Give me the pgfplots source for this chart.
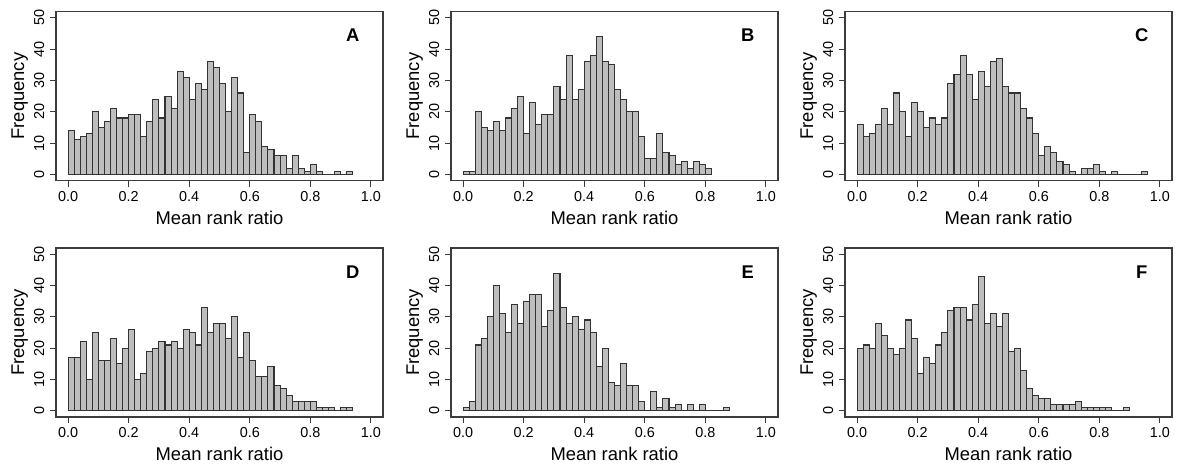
\documentclass[border=0pt]{standalone}
\usepackage{fontspec}
\setmainfont{Liberation Sans}
\usepackage{pgfplots}
\pgfplotsset{compat=1.18}
\definecolor{rgray}{HTML}{BEBEBE}
\definecolor{rbox}{HTML}{3C3C3C}
\newcommand{\labfont}{\fontsize{13.8}{16}\selectfont}
\newcommand{\tickfont}{\fontsize{10.8}{13}\selectfont}
\pgfplotsset{
  rpanel/.style={
    scale only axis,
    width=245.25pt, height=126.75pt,
    xmin=-0.04, xmax=1.04, ymin=-2, ymax=52,
    xtick={0,0.2,0.4,0.6,0.8,1},
    xticklabels={0.0,0.2,0.4,0.6,0.8,1.0},
    ytick={0,10,20,30,40,50},
    yticklabels={0,10,20,30,40,50},
    tick pos=left,
    tick align=outside,
    major tick length=4.5pt,
    axis line style={line width=0.8pt, draw=rbox},
    tick style={line width=0.8pt, draw=rbox},
    tick label style={font=\tickfont},
    xticklabel style={anchor=base, yshift=-11pt},
    yticklabel style={rotate=90, anchor=base, yshift=4.5pt},
    clip=false,
  },
  rbars/.style={ybar interval, fill=rgray, draw=black!80, line width=0.8pt},
}
\newcommand{\panellabels}[1]{%
  \node[anchor=base, font=\labfont] at ([yshift=-32.8pt]rel axis cs:0.5,0) {Mean rank ratio};
  \node[rotate=90, anchor=base, font=\labfont] at ([xshift=-24pt]rel axis cs:0,0.5) {Frequency};
  \node[anchor=base, font=\labfont\bfseries] at (axis cs:0.94,42.4) {#1};
}
\begin{document}
\begin{tikzpicture}
\path[use as bounding box] (0pt,0pt) rectangle (884.25pt,-349.5pt);

% A
\begin{axis}[rpanel, at={(42pt,-135.45pt)}, anchor=south west]
\addplot[rbars] coordinates {(0.00,14)(0.02,11)(0.04,12)(0.06,13)(0.08,20)(0.10,15)(0.12,17)(0.14,21)(0.16,18)(0.18,18)
(0.20,19)(0.22,19)(0.24,12)(0.26,17)(0.28,24)(0.30,18)(0.32,25)(0.34,21)(0.36,33)(0.38,31)
(0.40,24)(0.42,29)(0.44,27)(0.46,36)(0.48,34)(0.50,29)(0.52,20)(0.54,31)(0.56,26)(0.58,7)
(0.60,19)(0.62,17)(0.64,9)(0.66,8)(0.68,6)(0.70,6)(0.72,2)(0.74,6)(0.76,2)(0.78,1)
(0.80,3)(0.82,1)(0.84,0)(0.86,0)(0.88,1)(0.90,0)(0.92,1)(0.94,0)};
\panellabels{A}
\end{axis}

% B
\begin{axis}[rpanel, at={(338.25pt,-135.45pt)}, anchor=south west]
\addplot[rbars] coordinates {(0.00,1)(0.02,1)(0.04,20)(0.06,15)(0.08,14)(0.10,17)(0.12,14)(0.14,18)(0.16,21)(0.18,25)
(0.20,13)(0.22,23)(0.24,16)(0.26,19)(0.28,19)(0.30,28)(0.32,24)(0.34,38)(0.36,24)(0.38,27)
(0.40,36)(0.42,38)(0.44,44)(0.46,36)(0.48,35)(0.50,27)(0.52,24)(0.54,20)(0.56,20)(0.58,12)
(0.60,5)(0.62,5)(0.64,13)(0.66,7)(0.68,6)(0.70,3)(0.72,4)(0.74,2)(0.76,4)(0.78,3)
(0.80,2)(0.82,0)};
\panellabels{B}
\end{axis}

% C
\begin{axis}[rpanel, at={(633.75pt,-135.45pt)}, anchor=south west]
\addplot[rbars] coordinates {(0.00,16)(0.02,12)(0.04,13)(0.06,16)(0.08,21)(0.10,16)(0.12,26)(0.14,20)(0.16,12)(0.18,23)
(0.20,20)(0.22,15)(0.24,18)(0.26,16)(0.28,18)(0.30,29)(0.32,32)(0.34,38)(0.36,32)(0.38,24)
(0.40,33)(0.42,28)(0.44,36)(0.46,37)(0.48,28)(0.50,26)(0.52,26)(0.54,21)(0.56,18)(0.58,13)
(0.60,6)(0.62,9)(0.64,7)(0.66,4)(0.68,3)(0.70,1)(0.72,0)(0.74,2)(0.76,2)(0.78,3)
(0.80,1)(0.82,0)(0.84,1)(0.86,0)(0.88,0)(0.90,0)(0.92,0)(0.94,1)(0.96,0)};
\panellabels{C}
\end{axis}

% D
\begin{axis}[rpanel, at={(42pt,-312.75pt)}, anchor=south west]
\addplot[rbars] coordinates {(0.00,17)(0.02,17)(0.04,22)(0.06,10)(0.08,25)(0.10,16)(0.12,16)(0.14,23)(0.16,15)(0.18,20)
(0.20,26)(0.22,10)(0.24,12)(0.26,19)(0.28,20)(0.30,22)(0.32,21)(0.34,22)(0.36,20)(0.38,26)
(0.40,25)(0.42,21)(0.44,33)(0.46,25)(0.48,28)(0.50,28)(0.52,23)(0.54,30)(0.56,17)(0.58,25)
(0.60,16)(0.62,11)(0.64,11)(0.66,14)(0.68,8)(0.70,7)(0.72,5)(0.74,3)(0.76,3)(0.78,3)
(0.80,3)(0.82,1)(0.84,1)(0.86,1)(0.88,0)(0.90,1)(0.92,1)(0.94,0)};
\panellabels{D}
\end{axis}

% E
\begin{axis}[rpanel, at={(338.25pt,-312.75pt)}, anchor=south west]
\addplot[rbars] coordinates {(0.00,1)(0.02,3)(0.04,21)(0.06,23)(0.08,30)(0.10,40)(0.12,31)(0.14,25)(0.16,34)(0.18,28)
(0.20,35)(0.22,37)(0.24,37)(0.26,27)(0.28,32)(0.30,44)(0.32,33)(0.34,28)(0.36,30)(0.38,26)
(0.40,29)(0.42,25)(0.44,14)(0.46,20)(0.48,9)(0.50,8)(0.52,15)(0.54,8)(0.56,8)(0.58,3)
(0.60,0)(0.62,6)(0.64,1)(0.66,4)(0.68,1)(0.70,2)(0.72,0)(0.74,2)(0.76,0)(0.78,2)
(0.80,0)(0.82,0)(0.84,0)(0.86,1)(0.88,0)};
\panellabels{E}
\end{axis}

% F
\begin{axis}[rpanel, at={(633.75pt,-312.75pt)}, anchor=south west]
\addplot[rbars] coordinates {(0.00,20)(0.02,21)(0.04,20)(0.06,28)(0.08,24)(0.10,20)(0.12,18)(0.14,20)(0.16,29)(0.18,23)
(0.20,12)(0.22,17)(0.24,15)(0.26,21)(0.28,25)(0.30,32)(0.32,33)(0.34,33)(0.36,29)(0.38,34)
(0.40,43)(0.42,28)(0.44,31)(0.46,27)(0.48,31)(0.50,19)(0.52,20)(0.54,13)(0.56,7)(0.58,5)
(0.60,4)(0.62,4)(0.64,2)(0.66,2)(0.68,2)(0.70,2)(0.72,3)(0.74,1)(0.76,1)(0.78,1)
(0.80,1)(0.82,1)(0.84,0)(0.86,0)(0.88,1)(0.90,0)};
\panellabels{F}
\end{axis}
\end{tikzpicture}
\end{document}
